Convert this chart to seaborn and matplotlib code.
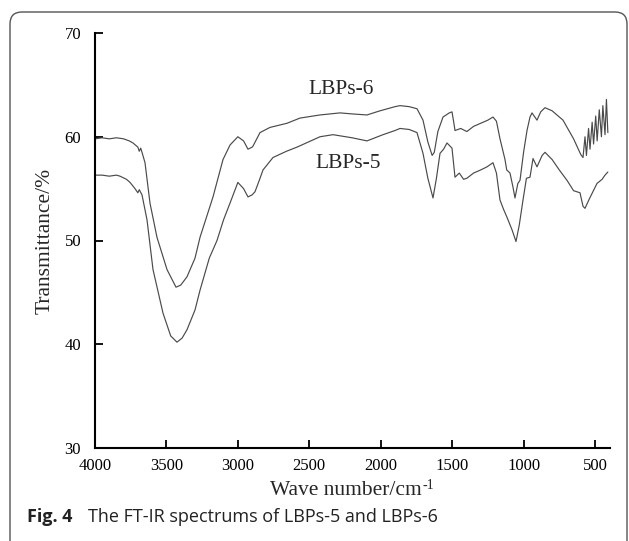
import matplotlib
matplotlib.use('Agg')
import matplotlib.pyplot as plt
from matplotlib.patches import FancyBboxPatch
import numpy as np
import pandas as pd
import seaborn as sns

# ── data ──────────────────────────────────────────────────────
wn_6 = [4000, 3950, 3900, 3850, 3800, 3760, 3734, 3700, 3690, 3680, 3671,
        3650, 3615, 3566, 3496, 3433, 3400, 3356, 3300, 3265, 3174, 3104,
        3055, 3000, 2960, 2929, 2900, 2894, 2845, 2775, 2656, 2565, 2425,
        2285, 2200, 2096, 2005, 1900, 1865, 1800, 1746, 1704, 1670, 1640,
        1625, 1600, 1564, 1520, 1501, 1490, 1480, 1440, 1397, 1350, 1300,
        1250, 1214, 1190, 1165, 1130, 1118, 1095, 1075, 1060, 1040, 1025,
        1000, 976, 955, 941, 906, 880, 850, 800, 724, 650, 600, 584,
        570, 560, 545, 535, 520, 510, 495, 485, 470, 455, 445, 430, 420, 410]
t_6 = [59.8, 59.9, 59.8, 59.9, 59.8, 59.6, 59.4, 59.0, 58.6, 58.9, 58.5,
       57.5, 53.6, 50.3, 47.2, 45.5, 45.7, 46.5, 48.3, 50.3, 54.2, 57.8,
       59.2, 60.0, 59.6, 58.8, 59.0, 59.1, 60.4, 60.9, 61.3, 61.8, 62.1,
       62.3, 62.2, 62.1, 62.5, 62.9, 63.0, 62.9, 62.7, 61.6, 59.5, 58.2,
       58.5, 60.5, 61.9, 62.3, 62.4, 61.5, 60.6, 60.8, 60.5, 61.0, 61.3,
       61.6, 61.9, 61.5, 59.8, 57.8, 56.8, 56.5, 55.2, 54.1, 55.5, 55.8,
       58.5, 60.6, 61.9, 62.3, 61.6, 62.4, 62.8, 62.5, 61.6, 59.8, 58.3, 58.0,
       60.0, 58.2, 60.8, 58.8, 61.4, 59.3, 62.0, 59.6, 62.6, 60.0, 63.0, 60.2, 63.6, 60.4]

wn_5 = [4000, 3950, 3900, 3850, 3825, 3780, 3755, 3720, 3700, 3690, 3671,
        3636, 3594, 3524, 3470, 3426, 3390, 3356, 3300, 3265, 3200, 3146,
        3100, 3055, 3000, 2960, 2929, 2900, 2880, 2850, 2824, 2754, 2660,
        2586, 2425, 2334, 2200, 2096, 1984, 1900, 1865, 1800, 1746, 1704,
        1670, 1634, 1610, 1585, 1560, 1536, 1501, 1480, 1450, 1420, 1397,
        1350, 1300, 1256, 1214, 1190, 1165, 1140, 1118, 1080, 1053, 1030,
        1004, 980, 955, 934, 906, 870, 850, 800, 750, 696, 650, 605, 584,
        570, 540, 486, 450, 430, 410]
t_5 = [56.3, 56.3, 56.2, 56.3, 56.2, 55.9, 55.6, 55.0, 54.6, 54.9, 54.4,
       52.0, 47.2, 43.0, 40.8, 40.2, 40.6, 41.4, 43.3, 45.2, 48.3, 50.0,
       52.0, 53.6, 55.6, 55.0, 54.2, 54.4, 54.7, 55.8, 56.8, 58.0, 58.6,
       59.0, 60.0, 60.2, 59.9, 59.6, 60.2, 60.6, 60.8, 60.7, 60.4, 58.4,
       56.0, 54.1, 56.0, 58.4, 58.8, 59.4, 58.9, 56.1, 56.5, 55.9, 56.0,
       56.5, 56.8, 57.1, 57.5, 56.5, 53.9, 53.0, 52.3, 51.0, 49.9, 51.5,
       53.9, 56.0, 56.1, 57.9, 57.1, 58.2, 58.5, 57.8, 56.8, 55.8, 54.8, 54.6, 53.3,
       53.1, 54.0, 55.5, 55.9, 56.3, 56.6]

series_names = ['LBPs-6', 'LBPs-5']

df = pd.concat([
    pd.DataFrame({'wn': wn_6, 'T': t_6, 'sample': series_names[0]}),
    pd.DataFrame({'wn': wn_5, 'T': t_5, 'sample': series_names[1]}),
])

sns.set_style('ticks')
plt.rcParams['font.family'] = ['Liberation Serif', 'DejaVu Serif']

fig = plt.figure(figsize=(6.29, 5.41), dpi=100)
ax = fig.add_axes([95 / 629, 1 - 448 / 541, (610 - 95) / 629, (448 - 33) / 541])

sns.lineplot(data=df, x='wn', y='T', hue='sample', units='sample',
             estimator=None, sort=False, ax=ax, legend=False,
             palette=['#4a4a4a', '#4a4a4a'], lw=0.85)

ax.set_xlim(4000, 395)
ax.set_ylim(30, 70)
ax.set_xticks([4000, 3500, 3000, 2500, 2000, 1500, 1000, 500])
ax.set_yticks([30, 40, 50, 60, 70])
ax.tick_params(direction='in', length=6, width=1.3, labelsize=12,
               colors='black')
ax.tick_params(axis='x', pad=7)
ax.tick_params(axis='y', pad=10)
for s in ['top', 'right']:
    ax.spines[s].set_visible(False)
for s in ['left', 'bottom']:
    ax.spines[s].set_linewidth(1.5)
    ax.spines[s].set_color('black')

ax.set_xlabel('Wave number/cm', fontsize=15.5, labelpad=5)
ax.xaxis.label.set_x(0.5 - 7 / 515)
ax.annotate('-1', xy=(1, 1), xycoords=ax.xaxis.label, xytext=(0.5, 1),
            textcoords='offset points', fontsize=10, ha='left', va='top')
ax.set_ylabel('Transmittance/%', fontsize=15.5, labelpad=7)

ax.text(2505, 64.6, series_names[0], fontsize=15.5, va='center', ha='left')
ax.text(2455, 57.4, series_names[1], fontsize=15.5, va='center', ha='left')

# caption
fig.text(27 / 629, 1 - 517 / 541, 'Fig. 4', fontsize=13, fontweight='bold',
         family='Open Sans', va='center', ha='left', color='#222222')
fig.text(88 / 629, 1 - 517 / 541, 'The FT-IR spectrums of LBPs-5 and LBPs-6',
         fontsize=13, family='Open Sans', va='center', ha='left', color='#222222')

# rounded frame around the figure
frame = FancyBboxPatch((10, -20), 617, 549, boxstyle='round,pad=0,rounding_size=12',
                       transform=None, fill=False, edgecolor='#555555', lw=1.0)
fig.add_artist(frame)

fig.savefig('out.png', dpi=100)
